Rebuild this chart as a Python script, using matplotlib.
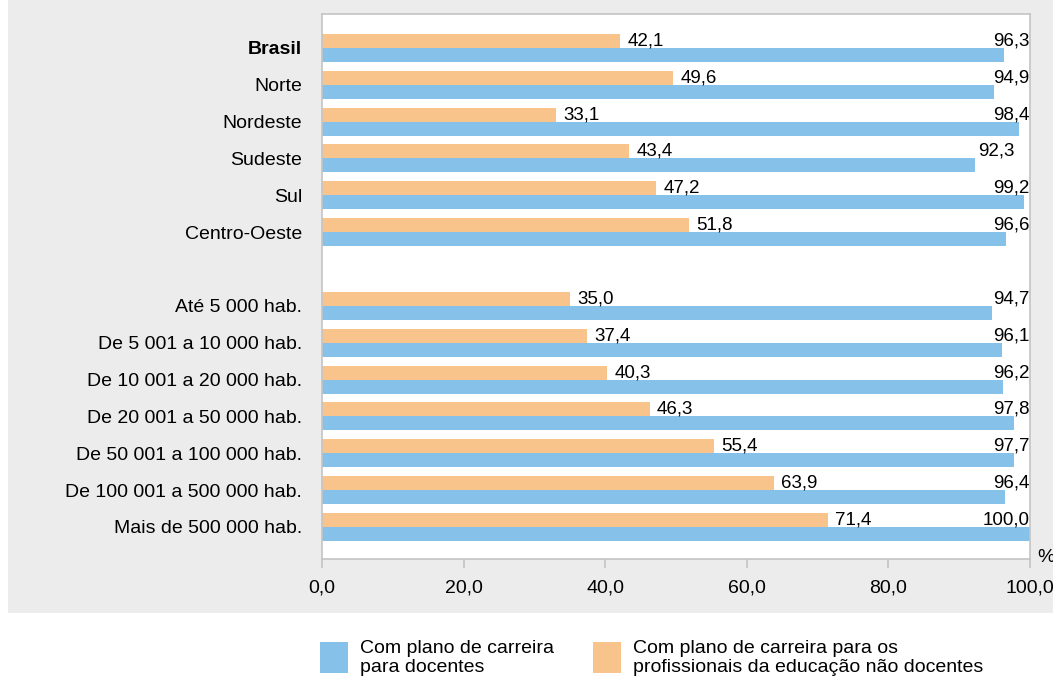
import matplotlib.pyplot as plt
from matplotlib.patches import Rectangle



CATEGORIES=[
	"Brasil","Norte","Nordeste","Sudeste","Sul","Centro-Oeste",
	"Até 5 000 hab.","De 5 001 a 10 000 hab.","De 10 001 a 20 000 hab.",
	"De 20 001 a 50 000 hab.","De 50 001 a 100 000 hab.",
	"De 100 001 a 500 000 hab.","Mais de 500 000 hab.",
]
DOCENTES=[96.3,94.9,98.4,92.3,99.2,96.6,94.7,96.1,96.2,97.8,97.7,96.4,100.0]
NAO_DOCENTES=[42.1,49.6,33.1,43.4,47.2,51.8,35.0,37.4,40.3,46.3,55.4,63.9,71.4]
XTICKS=[0,20,40,60,80,100]
LEGEND_LABELS=[
	"Com plano de carreira\npara docentes",
	"Com plano de carreira para os\nprofissionais da educação não docentes",
]

BLUE="#85c1e9"
ORANGE="#f9c38c"
GREY_BG="#ececec"
SPINE="#c4c4c4"
FS=14

# regions first, then an empty slot, then the population groups
POS=list(range(0,6))+list(range(7,14))
BAR_H=0.38



plt.rcParams["font.family"]=["Liberation Sans","DejaVu Sans"]
W,H=1053,676
fig=plt.figure(figsize=(W/100,H/100),dpi=100,facecolor="white")
fig.add_artist(Rectangle((8/W,1-613/H),1-8/W,613/H,transform=fig.transFigure,facecolor=GREY_BG,edgecolor="none",zorder=-10))

ax=fig.add_axes([322/W,1-559/H,(1030-322)/W,(559-14)/H])
ax.set_facecolor("white")
ax.barh([p-BAR_H/2 for p in POS],NAO_DOCENTES,height=BAR_H,color=ORANGE,linewidth=0)
ax.barh([p+BAR_H/2 for p in POS],DOCENTES,height=BAR_H,color=BLUE,linewidth=0)

# value labels sit on the line of the orange bar
for p,a,b in zip(POS,NAO_DOCENTES,DOCENTES):
	y=p-BAR_H/2
	ax.text(a+1.0,y,f"{a:.1f}".replace(".",","),ha="left",va="center",fontsize=FS-0.5)
	if (b+0.4+4.9>100):
		ax.text(99.9,y,f"{b:.1f}".replace(".",","),ha="right",va="center",fontsize=FS-0.5)
	else:
		ax.text(b+0.4,y,f"{b:.1f}".replace(".",","),ha="left",va="center",fontsize=FS-0.5)

ax.set_xlim(0,100)
ax.set_ylim(13+0.87,-0.92)
ax.set_yticks(POS)
ax.set_yticklabels(CATEGORIES,fontsize=FS)
ax.get_yticklabels()[0].set_fontweight("bold")
ax.tick_params(axis="y",length=0,pad=14.4)
ax.set_xticks(XTICKS)
ax.set_xticklabels([f"{t:.1f}".replace(".",",") for t in XTICKS],fontsize=FS)
ax.tick_params(axis="x",direction="out",length=6.5,width=1.2,color=SPINE,pad=8)
for s in ax.spines.values():
	s.set_color(SPINE)
	s.set_linewidth(1.2)
fig.text(1037/W,1-558/H,"%",ha="left",va="center",fontsize=FS)

# legend drawn by hand below the grey panel
for x0,col,lab in [(320,BLUE,LEGEND_LABELS[0]),(593,ORANGE,LEGEND_LABELS[1])]:
	fig.add_artist(Rectangle((x0/W,1-673/H),28/W,31/H,transform=fig.transFigure,facecolor=col,edgecolor="none"))
	fig.text((x0+40)/W,1-658/H,lab,ha="left",va="center",fontsize=FS,linespacing=1.12)

plt.savefig("out.png",dpi=100)
